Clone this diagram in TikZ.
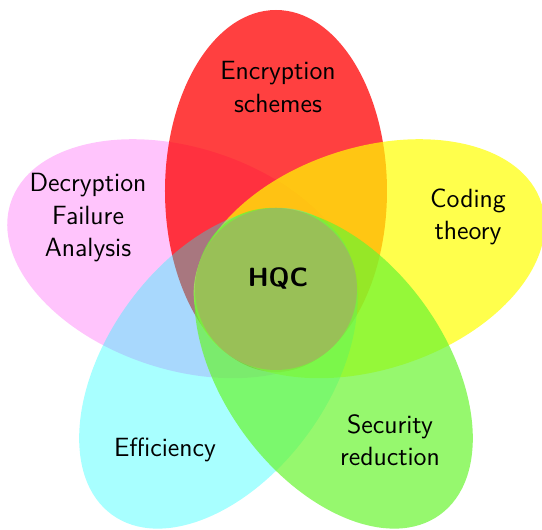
\documentclass[tikz,border=0pt]{standalone}
\usepackage{tikz}
\definecolor{petalgreen}{RGB}{105,245,48}
\definecolor{petalcyan}{RGB}{0,255,255}
\definecolor{petalpink}{RGB}{255,0,240}
\definecolor{petalred}{RGB}{255,0,0}
\definecolor{petalyellow}{RGB}{255,255,0}
\definecolor{coreolive}{RGB}{156,189,90}
\begin{document}
\begin{tikzpicture}
	\tikzset{petallabel/.style={font=\sffamily\fontsize{15}{18.5}\selectfont, align=center}}
	%%%%% FRAME %%%%%
	\useasboundingbox (-5.52,-4.82) rectangle (5.32,5.78);
	
	%%%%% PETALS %%%%%
	\fill[petalpink, fill opacity=0.23, rotate=162] (1.96,0) ellipse (3.62 and 2.22);
	\fill[petalred, fill opacity=0.75, rotate=90] (1.96,0) ellipse (3.62 and 2.22);
	\fill[petalyellow, fill opacity=0.7, rotate=18] (1.96,0) ellipse (3.62 and 2.22);
	\fill[petalcyan, fill opacity=0.34, rotate=-126] (1.96,0) ellipse (3.62 and 2.22);
	\fill[petalgreen, fill opacity=0.7, rotate=-54] (1.96,0) ellipse (3.62 and 2.22);
	
	%%%%% CORE %%%%%
	\fill[coreolive, fill opacity=0.92] (0,0) circle (1.62);
	
	%%%%% LABELS %%%%%
	\node[font=\sffamily\bfseries\fontsize{15}{18}\selectfont] (hqc) at (0.04, 0.22) {HQC};
	\node[petallabel] (encryption) at (0.04, 4.04) {Encryption\\schemes};
	\node[petallabel] (coding) at (3.84, 1.44) {Coding\\theory};
	\node[petallabel] (security) at (2.28, -3.02) {Security\\reduction};
	\node[petallabel] (efficiency) at (-2.22, -3.22) {Efficiency};
	\node[petallabel] (decryption) at (-3.76, 1.42) {Decryption\\Failure\\Analysis};
\end{tikzpicture}
\end{document}
